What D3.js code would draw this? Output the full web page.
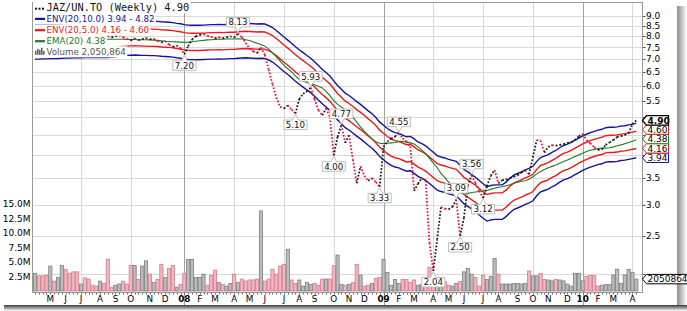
<!DOCTYPE html>
<html>
<head>
<meta charset="utf-8">
<title>JAZ/UN.TO weekly</title>
<script src="https://cdn.jsdelivr.net/npm/d3@7"></script>
<style>
  body { margin: 0; background: #fff; }
  svg { display: block; font-family: "DejaVu Sans", Verdana, sans-serif; }
</style>
</head>
<body>
<div id="chart"></div>
<script>
// weekly closes, Apr 2007 - Apr 2010
const closes = [
  7.60, 7.55, 7.50, 7.48, 7.70, 7.62, 7.80, 8.05, 8.00, 7.95,
  7.92, 7.88, 8.05, 8.02, 7.98, 7.95, 7.92, 8.05, 8.02, 8.00,
  7.95, 8.00, 8.05, 7.95, 7.88, 7.80, 7.90, 7.82, 7.86, 7.92,
  7.85, 7.88, 7.78, 7.72, 7.78, 7.62, 7.52, 7.58, 7.45, 7.20,
  7.55, 7.85, 8.00, 8.06, 8.10, 8.02, 7.97, 7.90, 7.95, 7.90,
  7.95, 8.00, 7.93, 8.13, 7.95, 7.70, 7.45, 7.32, 7.25, 7.50,
  7.18, 6.60, 6.05, 5.60, 5.30, 5.25, 5.35, 5.22, 5.10, 5.55,
  5.72, 5.80, 5.93, 5.55, 5.20, 5.05, 5.25, 5.00, 4.00, 4.45,
  4.77, 4.30, 4.50, 3.90, 3.40, 3.75, 3.55, 3.45, 3.50, 3.42,
  3.33, 4.20, 4.33, 4.41, 4.46, 4.55, 4.42, 4.33, 4.21, 3.25,
  3.39, 3.50, 3.45, 2.40, 2.04, 2.45, 2.96, 2.93, 2.92, 2.96,
  3.09, 2.50, 2.78, 3.35, 3.56, 3.40, 3.25, 3.12, 3.34, 3.55,
  3.67, 3.40, 3.46, 3.47, 3.50, 3.53, 3.56, 3.62, 3.66, 3.58,
  3.95, 4.37, 4.36, 4.06, 4.20, 4.24, 4.23, 4.25, 4.27, 4.30,
  4.32, 4.37, 4.47, 4.53, 4.37, 4.29, 4.19, 4.13, 4.14, 4.25,
  4.31, 4.37, 4.45, 4.47, 4.50, 4.55, 4.80, 4.90
];

// EMA(20) as drawn (green line)
const ema20 = [
  7.80, 7.79, 7.78, 7.77, 7.76, 7.76, 7.76, 7.78, 7.79, 7.80,
  7.81, 7.82, 7.83, 7.84, 7.84, 7.85, 7.85, 7.86, 7.86, 7.86,
  7.86, 7.86, 7.86, 7.86, 7.85, 7.85, 7.85, 7.84, 7.84, 7.84,
  7.83, 7.82, 7.81, 7.79, 7.77, 7.76, 7.75, 7.74, 7.73, 7.72,
  7.73, 7.75, 7.77, 7.79, 7.81, 7.83, 7.84, 7.85, 7.86, 7.86,
  7.87, 7.87, 7.87, 7.88, 7.87, 7.84, 7.80, 7.74, 7.68, 7.62,
  7.55, 7.43, 7.27, 7.10, 6.92, 6.75, 6.62, 6.50, 6.35, 6.22,
  6.16, 6.11, 6.08, 6.03, 5.98, 5.92, 5.80, 5.66, 5.50, 5.38,
  5.30, 5.20, 5.12, 5.00, 4.85, 4.72, 4.60, 4.50, 4.40, 4.33,
  4.29, 4.28, 4.29, 4.30, 4.31, 4.33, 4.33, 4.32, 4.30, 4.27,
  4.20, 4.12, 4.04, 3.93, 3.82, 3.72, 3.60, 3.51, 3.42, 3.34,
  3.28, 3.22, 3.19, 3.20, 3.22, 3.23, 3.24, 3.25, 3.26, 3.28,
  3.30, 3.32, 3.33, 3.35, 3.37, 3.40, 3.42, 3.44, 3.45, 3.48,
  3.53, 3.59, 3.64, 3.68, 3.72, 3.75, 3.78, 3.82, 3.86, 3.89,
  3.93, 3.97, 4.01, 4.05, 4.09, 4.12, 4.14, 4.16, 4.17, 4.17,
  4.18, 4.20, 4.23, 4.25, 4.28, 4.31, 4.34, 4.38
];

// centre line of the two envelopes (20-week average, midway between the bands)
const envMid = [
  7.78, 7.78, 7.79, 7.79, 7.80, 7.80, 7.81, 7.82, 7.83, 7.83,
  7.84, 7.84, 7.84, 7.85, 7.85, 7.85, 7.85, 7.85, 7.85, 7.85,
  7.87, 7.89, 7.92, 7.94, 7.95, 7.96, 7.97, 7.96, 7.95, 7.95,
  7.94, 7.94, 7.93, 7.91, 7.90, 7.89, 7.87, 7.84, 7.82, 7.78,
  7.76, 7.75, 7.75, 7.75, 7.76, 7.77, 7.78, 7.78, 7.79, 7.78,
  7.79, 7.80, 7.80, 7.82, 7.83, 7.84, 7.83, 7.82, 7.81, 7.82,
  7.81, 7.74, 7.65, 7.52, 7.38, 7.24, 7.11, 6.98, 6.84, 6.72,
  6.61, 6.50, 6.40, 6.27, 6.13, 6.00, 5.89, 5.77, 5.61, 5.46,
  5.34, 5.22, 5.15, 5.06, 4.97, 4.89, 4.80, 4.71, 4.63, 4.53,
  4.41, 4.33, 4.25, 4.19, 4.15, 4.13, 4.09, 4.05, 4.06, 4.00,
  3.93, 3.89, 3.84, 3.77, 3.70, 3.63, 3.60, 3.58, 3.55, 3.53,
  3.51, 3.43, 3.35, 3.30, 3.25, 3.20, 3.14, 3.08, 3.03, 3.05,
  3.06, 3.06, 3.06, 3.11, 3.18, 3.24, 3.27, 3.30, 3.34, 3.37,
  3.41, 3.51, 3.59, 3.62, 3.65, 3.70, 3.74, 3.80, 3.85, 3.88,
  3.92, 3.97, 4.02, 4.07, 4.11, 4.15, 4.18, 4.21, 4.23, 4.27,
  4.28, 4.28, 4.29, 4.31, 4.32, 4.34, 4.36, 4.38
];

// weekly volume, millions of shares
const volumes = [
  3.05, 2.6, 2.6, 2.7, 4.3, 1.7, 2.35, 4.4, 3.7, 3.05,
  3.3, 3.3, 1.2, 2.25, 2.05, 1.0, 0.85, 1.7, 1.3, 5.5,
  0.65, 1.0, 1.2, 1.7, 1.2, 4.4, 4.4, 2.0, 4.3, 5.2,
  2.9, 1.5, 2.0, 4.6, 2.35, 3.9, 4.4, 0.65, 1.15, 3.05,
  5.45, 5.45, 2.35, 2.35, 2.9, 1.0, 2.7, 3.6, 1.5, 1.15,
  0.85, 1.3, 2.9, 1.5, 2.05, 1.7, 1.9, 1.9, 2.05, 13.8,
  1.7, 2.05, 3.75, 2.9, 4.3, 4.6, 7.2, 1.9, 1.3, 1.9,
  0.85, 1.5, 1.15, 1.3, 1.0, 2.05, 2.05, 2.05, 4.35, 6.2,
  1.15, 1.0, 1.15, 1.45, 4.6, 2.75, 0.85, 1.0, 1.3, 2.2,
  2.35, 5.45, 3.2, 1.0, 2.0, 1.3, 2.0, 2.0, 1.5, 1.9,
  1.0, 1.15, 2.2, 4.1, 2.3, 2.2, 2.2, 1.6, 1.0, 0.85,
  1.3, 1.6, 3.3, 3.9, 2.9, 2.35, 0.85, 2.7, 2.0, 2.5,
  5.6, 2.9, 1.2, 1.2, 1.2, 1.3, 1.3, 1.2, 1.3, 3.45,
  2.6, 2.6, 3.05, 2.0, 1.9, 1.75, 2.0, 1.9, 1.75, 1.2,
  0.85, 3.05, 3.05, 1.75, 2.5, 2.65, 2.65, 0.85, 1.0, 1.1,
  1.1, 2.75, 3.75, 1.3, 2.75, 3.7, 3.2, 2.050864
];

// labelled swing highs / lows (week index)
const swingIdx  = [39, 53, 68, 72, 78, 80, 90, 95, 104, 110, 111, 114, 117];
const swingType = ["low", "high", "low", "high", "low", "high", "low", "high", "low", "high", "low", "high", "low"];

const priceTicks = [2.0, 2.5, 3.0, 3.5, 4.0, 4.5, 5.0, 5.5, 6.0, 6.5, 7.0, 7.5, 8.0, 8.5, 9.0];
const volumeTicks = [2.5, 5.0, 7.5, 10.0, 12.5, 15.0];
const envWide = 10.0, envNarrow = 5.0;
const symbol = "JAZ/UN.TO";

const dates = d3.timeMonday.range(new Date(2007, 3, 9), new Date(2010, 3, 13));

const width = 687, height = 311;
const plot = { left: 32, right: 643, top: 2.5, bottom: 292 };

const navy = "#14149a", red = "#f01818", green = "#217a21", dotRed = "#e3173f";

const svg = d3.select("#chart").append("svg")
    .attr("width", width)
    .attr("height", height);

const x = d3.scaleTime().domain(d3.extent(dates)).range([35, 636.3]);
const y = d3.scaleLog().domain([2.5, 9]).range([236, 16]);
const yVol = d3.scaleLinear().domain([0, 15]).range([291, 204]);

const fmt2 = d3.format(".2f");
const last = closes[closes.length - 1];
const lastEma = ema20[ema20.length - 1];
const lastMid = envMid[envMid.length - 1];
const lastVol = volumes[volumes.length - 1];
const isUp = i => i === 0 || closes[i] >= closes[i - 1];

// drop shadow round the picture
const defs = svg.append("defs");
const shR = defs.append("linearGradient").attr("id", "shR").attr("x1", 0).attr("x2", 1).attr("y1", 0).attr("y2", 0);
shR.append("stop").attr("offset", 0).attr("stop-color", "#8c8c8c");
shR.append("stop").attr("offset", 1).attr("stop-color", "#fff");
const shB = defs.append("linearGradient").attr("id", "shB").attr("x1", 0).attr("x2", 0).attr("y1", 0).attr("y2", 1);
shB.append("stop").attr("offset", 0).attr("stop-color", "#3a3a3a");
shB.append("stop").attr("offset", 1).attr("stop-color", "#fff");
svg.append("rect").attr("x", 677).attr("y", 6).attr("width", 10).attr("height", 300).attr("fill", "url(#shR)");
svg.append("rect").attr("x", 4).attr("y", 305).attr("width", 683).attr("height", 6).attr("fill", "url(#shB)");

defs.append("clipPath").attr("id", "plotClip")
  .append("rect")
    .attr("x", plot.left).attr("y", plot.top)
    .attr("width", plot.right - plot.left).attr("height", plot.bottom - plot.top);

// grid
svg.append("g").selectAll("line")
  .data(priceTicks)
  .join("line")
    .attr("x1", plot.left).attr("x2", plot.right)
    .attr("y1", d => Math.round(y(d)) + 0.5).attr("y2", d => Math.round(y(d)) + 0.5)
    .attr("stroke", "#d8d8d8");

const monthStarts = dates.filter((d, i) => i > 0 && d.getMonth() !== dates[i - 1].getMonth());
const quarterStarts = monthStarts.filter(d => d.getMonth() % 3 === 0);

svg.append("g").selectAll("line")
  .data(quarterStarts)
  .join("line")
    .attr("x1", d => Math.round(x(d)) + 0.5).attr("x2", d => Math.round(x(d)) + 0.5)
    .attr("y1", plot.top)
    .attr("y2", d => d.getMonth() === 0 ? 305 : plot.bottom)
    .attr("stroke", d => d.getMonth() === 0 ? "#a0a0a0" : "#d8d8d8");

// volume bars
svg.append("g").selectAll("rect")
  .data(volumes)
  .join("rect")
    .attr("x", (v, i) => x(dates[i]) - 1.6)
    .attr("width", 3.2)
    .attr("y", v => yVol(v))
    .attr("height", v => yVol(0) - yVol(v))
    .attr("fill", (v, i) => isUp(i) ? "#bcbcbc" : "#f1b7c1")
    .attr("stroke", (v, i) => isUp(i) ? "#7e7e7e" : "#d57a8d")
    .attr("stroke-width", 0.8);

// envelopes and EMA
const line = d3.line().x((v, i) => x(dates[i])).y(v => y(v));
const lines = svg.append("g").attr("clip-path", "url(#plotClip)").attr("fill", "none");
const bands = [
  { k: 1 + envWide / 100, color: navy },
  { k: 1 - envWide / 100, color: navy },
  { k: 1 + envNarrow / 100, color: red },
  { k: 1 - envNarrow / 100, color: red }
];
bands.forEach(b => {
  lines.append("path")
    .attr("d", line(envMid.map(v => v * b.k)))
    .attr("stroke", b.color)
    .attr("stroke-width", 1.4);
});
lines.append("path")
  .attr("d", line(ema20))
  .attr("stroke", green)
  .attr("stroke-width", 1.1);

// dotted close line, black on up weeks, red on down weeks
const segs = d3.range(1, closes.length);
lines.selectAll("line.close")
  .data(segs)
  .join("line")
    .attr("class", "close")
    .attr("x1", i => x(dates[i - 1])).attr("y1", i => y(closes[i - 1]))
    .attr("x2", i => x(dates[i])).attr("y2", i => y(closes[i]))
    .attr("stroke", i => isUp(i) ? "#1a1a1a" : dotRed)
    .attr("stroke-width", 1.8)
    .attr("stroke-dasharray", "1.7,1.7");

// swing callouts
const callouts = svg.append("g").attr("font-size", 8.6)
  .selectAll("g")
  .data(swingIdx.map((idx, k) => ({ idx, type: swingType[k] })))
  .join("g");

callouts.each(function(d) {
  const g = d3.select(this);
  const px = x(dates[d.idx]), py = y(closes[d.idx]);
  const dir = d.type === "high" ? -1 : 1;
  const t = g.append("text")
      .attr("x", px)
      .attr("text-anchor", "middle")
      .attr("fill", "#111")
      .text(fmt2(closes[d.idx]));
  const tw = t.node().getComputedTextLength();
  const bw = tw + 4, bh = 9.5;
  const near = py + dir * 6.5, far = near + dir * bh, tip = py + dir * 1;
  const x0 = px - bw / 2, x1 = px + bw / 2;
  g.insert("path", "text")
      .attr("d", `M${x0},${near}L${px - 3},${near}L${px},${tip}L${px + 3},${near}L${x1},${near}L${x1},${far}L${x0},${far}Z`)
      .attr("fill", "#fff")
      .attr("stroke", "#bdbdbd");
  t.attr("y", (near + far) / 2).attr("dy", "0.36em");
});

// frame
svg.append("g").attr("stroke", "#999").attr("fill", "none")
  .call(g => g.append("line").attr("x1", plot.left + 0.5).attr("x2", plot.left + 0.5).attr("y1", plot.top).attr("y2", plot.bottom))
  .call(g => g.append("line").attr("x1", plot.right - 0.5).attr("x2", plot.right - 0.5).attr("y1", plot.top).attr("y2", plot.bottom))
  .call(g => g.append("line").attr("x1", plot.left).attr("x2", plot.right).attr("y1", plot.top).attr("y2", plot.top))
  .call(g => g.append("line").attr("x1", plot.left).attr("x2", plot.right).attr("y1", plot.bottom + 0.5).attr("y2", plot.bottom + 0.5));

// weekly ticks under the plot
svg.append("g").selectAll("line")
  .data(dates)
  .join("line")
    .attr("x1", d => Math.round(x(d)) + 0.5).attr("x2", d => Math.round(x(d)) + 0.5)
    .attr("y1", plot.bottom + 1).attr("y2", plot.bottom + 2.5)
    .attr("stroke", "#666");

// month labels
svg.append("g").attr("font-size", 8.8).attr("text-anchor", "middle")
  .selectAll("text")
  .data(monthStarts)
  .join("text")
    .attr("x", d => x(d))
    .attr("y", 302)
    .attr("font-weight", d => d.getMonth() === 0 ? "bold" : null)
    .text(d => d.getMonth() === 0 ? d3.timeFormat("%y")(d) : d3.timeFormat("%b")(d)[0]);

// value tags on the right: envelope / EMA tags stacked from the bottom up
const envTags = [
  { v: lastMid * (1 - envWide / 100), color: navy },
  { v: lastMid * (1 - envNarrow / 100), color: red },
  { v: lastEma, color: green },
  { v: lastMid * (1 + envNarrow / 100), color: red }
];
let prevY = Infinity;
envTags.forEach(t => {
  t.cy = Math.min(y(t.v), prevY - 9.4);
  prevY = t.cy;
});
const tagYs = envTags.map(t => t.cy).concat([y(last), yVol(lastVol)]);

// price axis (right); labels hidden behind a tag are left out
const pAxis = svg.append("g");
pAxis.selectAll("line").data(priceTicks).join("line")
    .attr("x1", plot.right).attr("x2", plot.right + 2.5)
    .attr("y1", d => Math.round(y(d)) + 0.5).attr("y2", d => Math.round(y(d)) + 0.5)
    .attr("stroke", "#555");
pAxis.selectAll("text")
  .data(priceTicks.filter(d => tagYs.every(ty => Math.abs(ty - y(d)) > 8.5)))
  .join("text")
    .attr("x", plot.right + 3)
    .attr("y", d => y(d))
    .attr("dy", "0.36em")
    .attr("font-size", 9)
    .text(d => d.toFixed(1));

// volume axis (left)
svg.append("g").selectAll("text")
  .data(volumeTicks)
  .join("text")
    .attr("x", plot.left - 1.5)
    .attr("y", d => yVol(d))
    .attr("dy", "0.36em")
    .attr("text-anchor", "end")
    .attr("font-size", 9)
    .text(d => d.toFixed(1) + "M");

// legend
const legendRows = [
  { text: `${symbol} (Weekly) ${fmt2(last)}`, kind: "dots", color: "#111", mono: true, cy: 7.7 },
  { text: `ENV(20,${envWide.toFixed(1)}) ${fmt2(lastMid * (1 - envWide / 100))} - ${fmt2(lastMid * (1 + envWide / 100))}`, kind: "line", color: navy, cy: 18.9 },
  { text: `ENV(20,${envNarrow.toFixed(1)}) ${fmt2(lastMid * (1 - envNarrow / 100))} - ${fmt2(lastMid * (1 + envNarrow / 100))}`, kind: "line", color: red, cy: 30.2 },
  { text: `EMA(20) ${fmt2(lastEma)}`, kind: "line", color: green, cy: 41.2 },
  { text: `Volume ${d3.format(",")(Math.round(lastVol * 1e6))}`, kind: "bars", color: "#555", cy: 51.8 }
];

const legend = svg.append("g");
legendRows.forEach(r => {
  const g = legend.append("g");
  const bg = g.append("rect").attr("fill", "#fff");
  const t = g.append("text")
      .attr("x", 46.5)
      .attr("y", r.cy)
      .attr("dy", "0.36em")
      .attr("font-size", r.mono ? 10.3 : 8.7)
      .attr("font-family", r.mono ? "'DejaVu Sans Mono', monospace" : null)
      .attr("fill", r.color)
      .text(r.text);
  const tw = t.node().getComputedTextLength();
  bg.attr("x", plot.left + 1).attr("y", r.cy - 5.6).attr("width", 46.5 + tw + 1.5 - plot.left - 1).attr("height", 11.2);
  if (r.kind === "line") {
    g.append("line").attr("x1", 35).attr("x2", 45).attr("y1", r.cy).attr("y2", r.cy)
      .attr("stroke", r.color).attr("stroke-width", 2.2);
  } else if (r.kind === "dots") {
    g.selectAll("rect.dot").data([36, 39.5, 43]).join("rect")
      .attr("class", "dot")
      .attr("x", d => d - 1).attr("y", r.cy).attr("width", 2).attr("height", 2)
      .attr("fill", "#111");
  } else {
    g.selectAll("rect.ico").data([4, 6, 5, 7, 4]).join("rect")
      .attr("class", "ico")
      .attr("x", (d, k) => 35 + k * 2).attr("y", d => r.cy + 3 - d)
      .attr("width", 1.6).attr("height", d => d)
      .attr("fill", "#666");
  }
});

function tag(cy, color, label, bold, right) {
  const g = svg.append("g");
  g.append("path")
      .attr("d", `M${plot.right - 0.5},${cy}L${plot.right + 3.5},${cy - 4.7}L${right},${cy - 4.7}L${right},${cy + 4.7}L${plot.right + 3.5},${cy + 4.7}Z`)
      .attr("fill", "#fff")
      .attr("stroke", color)
      .attr("stroke-width", bold ? 1.3 : 1);
  g.append("text")
      .attr("x", plot.right + 4.5)
      .attr("y", cy)
      .attr("dy", "0.36em")
      .attr("font-size", 9)
      .attr("font-weight", bold ? "bold" : null)
      .attr("fill", "#000")
      .text(label);
}

envTags.forEach(t => tag(t.cy, t.color, fmt2(t.v), false, 668.5));
tag(y(last), "#000", fmt2(last), true, 668.5);
tag(yVol(lastVol), "#000", String(Math.round(lastVol * 1e6)), false, 692);
</script>
</body>
</html>
